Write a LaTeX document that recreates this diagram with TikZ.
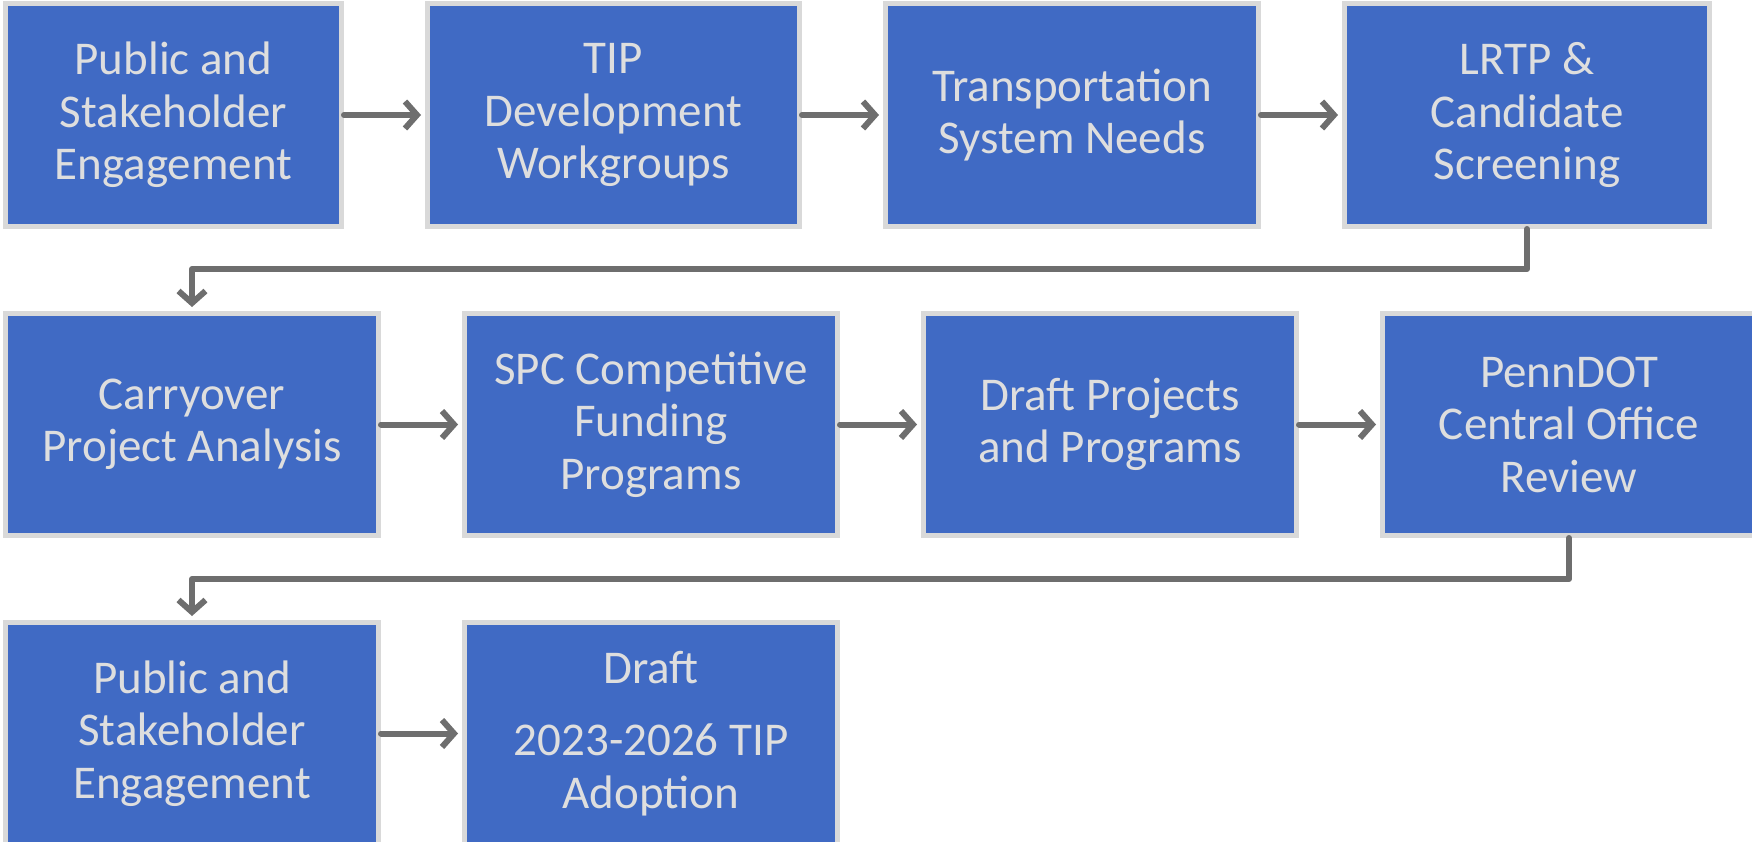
\documentclass[tikz,border=0pt]{standalone}
\usepackage{fontspec}
\setmainfont{Carlito}
\usetikzlibrary{positioning,arrows.meta}
\definecolor{boxblue}{RGB}{64,106,196}
\definecolor{boxrim}{RGB}{217,217,217}
\definecolor{boxtext}{RGB}{222,222,222}
\definecolor{arrowgray}{RGB}{110,110,110}
\tikzstyle{stepbox} = [rectangle, minimum width=373pt, minimum height=222pt, inner sep=0pt, outer sep=2.5pt, align=center, draw=boxrim, line width=5pt, fill=boxblue, text=boxtext, font=\fontsize{47}{52.5}\selectfont]
\tikzstyle{arrow} = [line width=6pt, draw=arrowgray, line cap=round, line join=round, -{Straight Barb[length=12pt,width=27pt]}, shorten >=4pt]

\begin{document}
\begin{tikzpicture}[node distance=81pt]
\useasboundingbox (0,0) rectangle (1752pt,-842pt);

% first row
\node (engage) [stepbox, minimum width=336pt, minimum height=223pt, anchor=north west] at (3pt,-1pt) {Public and\\Stakeholder\\Engagement};
\node (workgroups) [stepbox, minimum width=372pt, minimum height=223pt, right=of engage] {TIP\\Development\\Workgroups};
\node (needs) [stepbox, minimum height=223pt, right=of workgroups] {Transportation\\System Needs};
\node (lrtp) [stepbox, minimum width=365pt, minimum height=223pt, right=of needs] {LRTP \&\\Candidate\\Screening};

% second row
\node (carryover) [stepbox, below=82pt of engage.south west, anchor=north west] {Carryover\\Project Analysis};
\node (spc) [stepbox, right=of carryover] {SPC Competitive\\Funding\\Programs};
\node (draftprog) [stepbox, right=of spc] {Draft Projects\\and Programs};
\node (penndot) [stepbox, right=of draftprog] {PennDOT\\Central Office\\Review};

% third row
\node (engagetwo) [stepbox, below=82pt of carryover.south west, anchor=north west] {Public and\\Stakeholder\\Engagement};
\node (adoption) [stepbox, right=of engagetwo] {Draft\\[20pt]2023-2026 TIP\\Adoption};

\draw [arrow] (engage) -- (workgroups);
\draw [arrow] (workgroups) -- (needs);
\draw [arrow] (needs) -- (lrtp);
\draw [arrow] (lrtp.south) -- ++(0,-40pt) -| (carryover.north);
\draw [arrow] (carryover) -- (spc);
\draw [arrow] (spc) -- (draftprog);
\draw [arrow] (draftprog) -- (penndot);
\draw [arrow] (penndot.south) -- ++(0,-41pt) -| (engagetwo.north);
\draw [arrow] (engagetwo) -- (adoption);

\end{tikzpicture}
\end{document}
